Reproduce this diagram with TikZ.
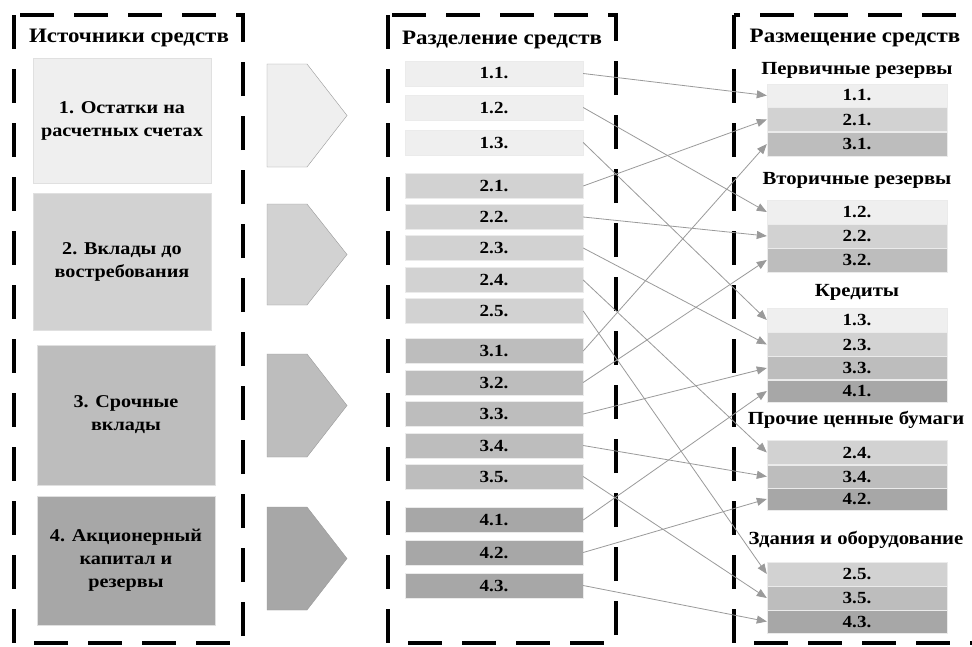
\documentclass[tikz,border=0pt]{standalone}
\usepackage{fontspec}
\setmainfont{Liberation Serif}[FakeStretch=1.12]
\usetikzlibrary{arrows.meta}

\definecolor{tono1}{HTML}{EFEFEF}
\definecolor{tono2}{HTML}{D2D2D2}
\definecolor{tono3}{HTML}{BDBDBD}
\definecolor{tono4}{HTML}{A7A7A7}
\definecolor{linea}{HTML}{9A9A9A}

\begin{document}
\begin{tikzpicture}[x=1pt,y=-1pt,
	cornice/.style={line width=4pt,dash pattern=on 34pt off 20pt},
	titolo/.style={font=\fontsize{20.5}{20.5}\selectfont\bfseries},
	sottotitolo/.style={font=\fontsize{18.5}{18.5}\selectfont\bfseries},
	fonte/.style={minimum width=178pt,inner sep=0pt,align=center,draw=black!12,
		font=\fontsize{18}{23}\selectfont\bfseries},
	voce/.style={minimum width=178pt,minimum height=25pt,inner sep=0pt,draw=black!8,
		font=\fontsize{17}{17}\selectfont\bfseries},
	posto/.style={minimum width=180pt,inner sep=0pt,draw=black!8,
		font=\fontsize{17}{17}\selectfont\bfseries},
	freccia/.style={draw=black!40},
	legame/.style={linea,line width=0.8pt,-{Triangle[length=10pt,width=8pt]}}]
	\clip (0,0) rectangle (972,646);
	\fill[white] (0,0) rectangle (972,646);

	% Cornici tratteggiate
	\draw[cornice] (14,15) rectangle (243,643);
	\draw[cornice] (388,15) rectangle (616,643);
	\draw[cornice] (734,15) rectangle (1000,643);

	% Fonti
	\node[titolo] (t1) at (129,38) {Источники средств};
	\node[fonte,fill=tono1,minimum height=125pt] (s1) at (122,120.5) {1. Остатки на\\расчетных счетах};
	\node[fonte,fill=tono2,minimum height=137pt] (s2) at (122,261.5) {2. Вклады до\\востребования};
	\node[fonte,fill=tono3,minimum height=140pt] (s3) at (126,415) {3. Срочные\\вклады};
	\node[fonte,fill=tono4,minimum height=129pt] (s4) at (126,560.5) {4. Акционерный\\капитал и\\резервы};

	% Frecce pentagonali
	\draw[freccia,fill=tono1] (267,64) -- (307,64) -- (347,115.5) -- (307,167) -- (267,167) -- cycle;
	\draw[freccia,fill=tono2] (267,204) -- (307,204) -- (347,254.5) -- (307,305) -- (267,305) -- cycle;
	\draw[freccia,fill=tono3] (267,354) -- (307,354) -- (347,405.5) -- (307,457) -- (267,457) -- cycle;
	\draw[freccia,fill=tono4] (267,507) -- (307,507) -- (347,558.5) -- (307,610) -- (267,610) -- cycle;

	% Suddivisione
	\node[titolo] (t2) at (502,40) {Разделение средств};
	\node[voce,fill=tono1] (m11) at (494,73.5) {1.1.};
	\node[voce,fill=tono1] (m12) at (494,107.5) {1.2.};
	\node[voce,fill=tono1] (m13) at (494,142.5) {1.3.};
	\node[voce,fill=tono2] (m21) at (494,186) {2.1.};
	\node[voce,fill=tono2] (m22) at (494,217) {2.2.};
	\node[voce,fill=tono2] (m23) at (494,248) {2.3.};
	\node[voce,fill=tono2] (m24) at (494,280) {2.4.};
	\node[voce,fill=tono2] (m25) at (494,311) {2.5.};
	\node[voce,fill=tono3] (m31) at (494,351) {3.1.};
	\node[voce,fill=tono3] (m32) at (494,382.5) {3.2.};
	\node[voce,fill=tono3] (m33) at (494,414) {3.3.};
	\node[voce,fill=tono3] (m34) at (494,445.5) {3.4.};
	\node[voce,fill=tono3] (m35) at (494,476.5) {3.5.};
	\node[voce,fill=tono4] (m41) at (494,520) {4.1.};
	\node[voce,fill=tono4] (m42) at (494,552.5) {4.2.};
	\node[voce,fill=tono4] (m43) at (494,585.5) {4.3.};

	% Impieghi
	\node[titolo] (t3) at (855,38) {Размещение средств};
	\node[sottotitolo] (g1) at (857,70) {Первичные резервы};
	\node[posto,fill=tono1,minimum height=23.5pt] (r11) at (857,95.5) {1.1.};
	\node[posto,fill=tono2,minimum height=24pt] (r21) at (857,119.5) {2.1.};
	\node[posto,fill=tono3,minimum height=24pt] (r31) at (857,144) {3.1.};
	\node[sottotitolo] (g2) at (857,180) {Вторичные резервы};
	\node[posto,fill=tono1,minimum height=24pt] (r12) at (857,212) {1.2.};
	\node[posto,fill=tono2,minimum height=24pt] (r22) at (857,236) {2.2.};
	\node[posto,fill=tono3,minimum height=24pt] (r32) at (857,260) {3.2.};
	\node[sottotitolo] (g3) at (857,292) {Кредиты};
	\node[posto,fill=tono1,minimum height=24pt] (r13) at (857,320) {1.3.};
	\node[posto,fill=tono2,minimum height=24pt] (r23) at (857,344.5) {2.3.};
	\node[posto,fill=tono3,minimum height=23pt] (r33) at (857,368) {3.3.};
	\node[posto,fill=tono4,minimum height=22pt] (r41) at (857,391) {4.1.};
	\node[sottotitolo] (g4) at (856,420) {Прочие ценные бумаги};
	\node[posto,fill=tono2,minimum height=24pt] (r24) at (857,452.5) {2.4.};
	\node[posto,fill=tono3,minimum height=23pt] (r34) at (857,476.5) {3.4.};
	\node[posto,fill=tono4,minimum height=22pt] (r42) at (857,499) {4.2.};
	\node[sottotitolo] (g5) at (856,540) {Здания и оборудование};
	\node[posto,fill=tono2,minimum height=24pt] (r25) at (857,574) {2.5.};
	\node[posto,fill=tono3,minimum height=24pt] (r35) at (857,598) {3.5.};
	\node[posto,fill=tono4,minimum height=23pt] (r43) at (857,621.5) {4.3.};

	% Collegamenti
	\draw[legame] (m11.east) -- (r11.west);
	\draw[legame] (m12.east) -- (r12.west);
	\draw[legame] (m13.east) -- (r13.west);
	\draw[legame] (m21.east) -- (r21.west);
	\draw[legame] (m22.east) -- (r22.west);
	\draw[legame] (m23.east) -- (r23.west);
	\draw[legame] (m24.east) -- (r24.west);
	\draw[legame] (m25.east) -- (r25.west);
	\draw[legame] (m31.east) -- (r31.west);
	\draw[legame] (m32.east) -- (r32.west);
	\draw[legame] (m33.east) -- (r33.west);
	\draw[legame] (m34.east) -- (r34.west);
	\draw[legame] (m35.east) -- (r35.west);
	\draw[legame] (m41.east) -- (r41.west);
	\draw[legame] (m42.east) -- (r42.west);
	\draw[legame] (m43.east) -- (r43.west);
\end{tikzpicture}
\end{document}
